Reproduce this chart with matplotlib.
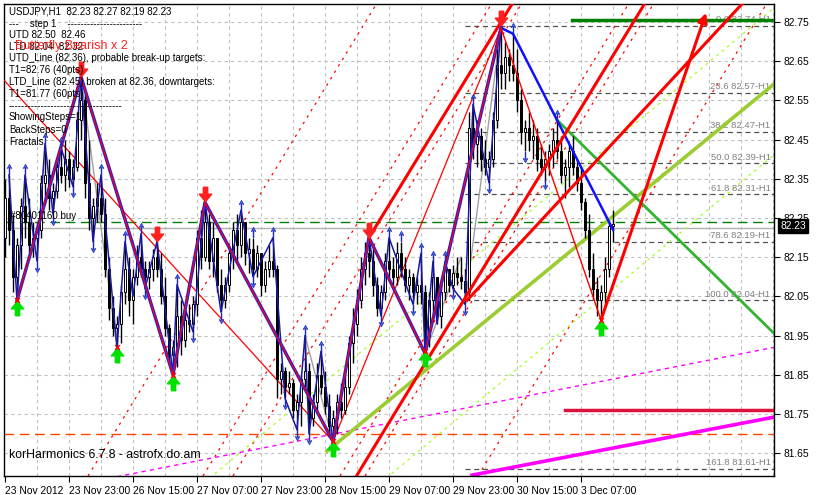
import matplotlib
matplotlib.use("Agg")
import matplotlib.pyplot as plt
import numpy as np

plt.rcParams['font.family'] = ['Liberation Sans', 'DejaVu Sans']

###################### Data ###################################################
# hourly bars, bar index = position on the time axis, open = previous close
high = [82.35, 82.36, 82.26, 82.20, 82.30, 82.36, 82.30, 82.24, 82.24, 82.36,
        82.44, 82.40, 82.34, 82.40, 82.43, 82.45, 82.42, 82.40, 82.52, 82.61,
        82.58, 82.45, 82.30, 82.34, 82.36, 82.30, 82.15, 82.05, 82.00, 82.08,
        82.19, 82.15, 82.12, 82.18, 82.21, 82.14, 82.14, 82.17, 82.19, 82.16,
        82.10, 81.98, 81.94, 82.08, 82.04, 82.01, 82.03, 82.05, 82.22, 82.27,
        82.29, 82.26, 82.24, 82.20, 82.12, 82.10, 82.18, 82.24, 82.26, 82.27,
        82.24, 82.20, 82.20, 82.18, 82.16, 82.14, 82.18, 82.20, 82.13, 81.88,
        81.87, 81.86, 81.84, 81.80, 81.85, 81.95, 81.88, 81.80, 81.88, 81.91,
        81.86, 81.80, 81.76, 81.80, 81.83, 81.85, 81.95, 82.02, 82.07, 82.15,
        82.19, 82.20, 82.17, 82.10, 82.08, 82.16, 82.20, 82.15, 82.19, 82.19,
        82.15, 82.12, 82.11, 82.10, 82.16, 82.08, 82.06, 82.14, 82.10, 82.08,
        82.14, 82.12, 82.13, 82.15, 82.15, 82.12, 82.52, 82.54, 82.50, 82.48,
        82.45, 82.42, 82.52, 82.68, 82.74, 82.70, 82.68, 82.72, 82.68, 82.58,
        82.50, 82.52, 82.50, 82.48, 82.44, 82.42, 82.44, 82.48, 82.50, 82.46,
        82.40, 82.44, 82.46, 82.40, 82.38, 82.30, 82.26, 82.16, 82.10, 82.08,
        82.15, 82.24, 82.27]
low = [82.15, 82.18, 82.06, 82.04, 82.12, 82.20, 82.16, 82.15, 82.14, 82.20,
       82.30, 82.27, 82.26, 82.30, 82.34, 82.32, 82.33, 82.33, 82.37, 82.45,
       82.30, 82.22, 82.19, 82.24, 82.24, 82.10, 81.99, 81.95, 81.92, 81.93,
       82.03, 82.00, 81.98, 82.08, 82.10, 82.07, 82.07, 82.09, 82.10, 82.03,
       81.95, 81.88, 81.85, 81.87, 81.90, 81.92, 81.96, 81.96, 82.00, 82.12,
       82.14, 82.12, 82.10, 82.06, 82.01, 82.02, 82.06, 82.12, 82.14, 82.15,
       82.13, 82.11, 82.10, 82.10, 82.05, 82.06, 82.10, 82.10, 81.79, 81.80,
       81.79, 81.80, 81.74, 81.71, 81.72, 81.82, 81.70, 81.72, 81.76, 81.80,
       81.75, 81.70, 81.68, 81.70, 81.74, 81.75, 81.80, 81.88, 81.95, 82.02,
       82.08, 82.10, 82.05, 82.00, 82.00, 82.04, 82.10, 82.07, 82.08, 82.10,
       82.06, 82.04, 82.03, 82.03, 82.03, 81.91, 81.92, 82.00, 81.98, 81.97,
       82.04, 82.06, 82.07, 82.08, 82.07, 82.03, 82.04, 82.40, 82.38, 82.37,
       82.36, 82.34, 82.38, 82.48, 82.58, 82.58, 82.60, 82.60, 82.52, 82.44,
       82.42, 82.42, 82.40, 82.37, 82.36, 82.35, 82.36, 82.38, 82.40, 82.34,
       82.30, 82.33, 82.36, 82.32, 82.27, 82.20, 82.10, 82.04, 82.00, 81.99,
       82.02, 82.10, 82.19]
close = [82.30, 82.22, 82.10, 82.18, 82.28, 82.24, 82.18, 82.20, 82.22, 82.34,
         82.36, 82.30, 82.32, 82.38, 82.36, 82.40, 82.35, 82.38, 82.50, 82.55,
         82.34, 82.25, 82.28, 82.30, 82.26, 82.12, 82.02, 81.97, 81.98, 82.06,
         82.12, 82.04, 82.10, 82.15, 82.12, 82.10, 82.12, 82.15, 82.12, 82.05,
         81.97, 81.90, 81.92, 82.00, 81.94, 81.99, 81.98, 82.03, 82.20, 82.15,
         82.24, 82.14, 82.20, 82.08, 82.04, 82.08, 82.16, 82.22, 82.18, 82.24,
         82.16, 82.17, 82.12, 82.16, 82.08, 82.12, 82.14, 82.12, 81.84, 81.86,
         81.82, 81.83, 81.76, 81.78, 81.84, 81.86, 81.74, 81.78, 81.85, 81.82,
         81.77, 81.72, 81.74, 81.78, 81.76, 81.82, 81.93, 81.98, 82.04, 82.12,
         82.16, 82.14, 82.08, 82.02, 82.06, 82.14, 82.12, 82.10, 82.16, 82.12,
         82.08, 82.10, 82.06, 82.08, 82.06, 81.95, 82.04, 82.10, 82.00, 82.06,
         82.12, 82.08, 82.11, 82.10, 82.09, 82.06, 82.48, 82.44, 82.46, 82.40,
         82.38, 82.40, 82.50, 82.64, 82.62, 82.66, 82.64, 82.62, 82.55, 82.47,
         82.48, 82.45, 82.46, 82.40, 82.38, 82.40, 82.42, 82.45, 82.42, 82.36,
         82.38, 82.42, 82.38, 82.34, 82.29, 82.22, 82.12, 82.07, 82.04, 82.06,
         82.12, 82.23, 82.23]
first_open = 82.20

tick_labels = ["23 Nov 2012", "23 Nov 23:00", "26 Nov 15:00", "27 Nov 07:00",
               "27 Nov 23:00", "28 Nov 15:00", "29 Nov 07:00", "29 Nov 23:00",
               "30 Nov 15:00", "3 Dec 07:00"]
price_ticks = [81.65, 81.75, 81.85, 81.95, 82.05, 82.15, 82.25, 82.35, 82.45,
               82.55, 82.65, 82.75]

# main zigzag (bar, price)
zz_bars = [3, 19, 42, 50, 82, 91, 105, 124]
zz_price = [82.04, 82.61, 81.85, 82.29, 81.68, 82.20, 81.905, 82.735]
last_leg = [(124, 82.735), (149, 81.99)]

# fractal zigzag
fz_bars = [1, 3, 5, 8, 10, 12, 14, 17, 19, 22, 24, 28, 30, 32, 34, 35, 38, 42,
           43, 47, 50, 54, 59, 62, 67, 70, 73, 75, 76, 79, 82, 91, 94, 96, 102,
           104, 105, 107, 108, 110, 112, 115, 117, 121, 124]
fz_price = [82.36, 82.04, 82.36, 82.14, 82.44, 82.26, 82.43, 82.33, 82.61, 82.19,
            82.36, 81.92, 82.19, 82.05, 82.21, 82.07, 82.19, 81.85, 82.08, 81.96,
            82.29, 82.01, 82.27, 82.10, 82.20, 81.79, 81.71, 81.95, 81.70, 81.91,
            81.68, 82.20, 82.00, 82.20, 82.03, 82.16, 81.905, 82.14, 81.98, 82.14,
            82.07, 82.03, 82.54, 82.34, 82.735]

frac_up = [1, 5, 10, 14, 24, 30, 34, 43, 59, 62, 67, 75, 79, 96, 99, 104, 107,
           110, 117, 127, 138]
frac_dn = [8, 12, 17, 22, 35, 47, 54, 62, 70, 73, 76, 94, 102, 112, 115, 121,
           130, 135]
peak_arrows = [19, 38, 50, 91, 124]
trough_arrows = [3, 28, 42, 82, 105, 149]

# fibonacci
fib_pct = ["0.0", "23.6", "38.2", "50.0", "61.8", "78.6", "100.0", "161.8"]
fib_val = [82.74, 82.57, 82.47, 82.39, 82.31, 82.19, 82.04, 81.61]

# trend lines: two anchor points (bar, price)
red_thick_a = [(104.5, 81.870), (148.75, 82.610)]
red_thick_b = [(91, 82.20), (127, 82.80)]
red_thick_c = [(115.5, 82.04), (171.25, 82.653)]
red_thick_d = [(149, 81.99), (175.5, 82.78)]
red_thin_1 = [(-1, 82.61), (82, 81.68)]
red_thin_2 = [(82, 81.68), (124, 82.735)]
lime_thick = [(80.5, 81.655), (148.75, 82.227)]
lime_dot_1 = [(96, 81.592), (148.75, 82.041)]
lime_dot_2 = [(51.8, 81.592), (148.75, 82.416)]
green_thick = [(138, 82.50), (183.75, 82.041)]
blue_thick = [(124, 82.735), (127, 82.72), (138, 82.50), (152, 82.22)]
magenta_thick = [(116.75, 81.594), (192.25, 81.742)]
magenta_dash = [(28, 81.59), (192.25, 81.92)]
red_dot_starts = [20.75, 49.5, 57, 83.75, 90, 118.25]   # bar where a dotted line leaves the bottom
red_dot_slope = 0.0167
gray_legs = [[(19, 82.61), (28, 81.92)], [(38, 82.19), (42, 81.85)],
             [(75, 81.95), (82, 81.68)], [(105, 81.905), (114, 82.15)],
             [(115, 82.03), (124, 82.735)]]

hline_bid = 82.225
hline_order = 82.24
hline_orange = 81.70
hline_crimson = (140, 81.76)
hline_green = (141.75, 82.755)

###################### Figure #################################################
fig = plt.figure(figsize=(8.16, 4.95), dpi=100)
fig.patch.set_facecolor("white")
ax = fig.add_axes([4 / 816, 19 / 495, 770 / 816, 472 / 495])
X0, X1 = -0.25, 192.25
Y0, Y1 = 81.5918, 82.7959
ax.set_xlim(X0, X1)
ax.set_ylim(Y0, Y1)

# grid
for p in price_ticks:
    ax.axhline(p, color="#c0c0c0", lw=0.8, ls=(0, (3, 3)), zorder=0)
for j in range(8, 193, 8):
    ax.axvline(j, color="#c0c0c0", lw=0.8, ls=(0, (3, 3)), zorder=0)


def seg(pts, **kw):
    xs, ys = zip(*pts)
    ax.plot(xs, ys, **kw)


def ray(pts, **kw):
    (xa, ya), (xb, yb) = pts
    s = (yb - ya) / (xb - xa)
    xe = xa + (Y1 + 0.05 - ya) / s if s > 0 else X1
    ax.plot([xa, xe], [ya, ya + s * (xe - xa)], **kw)


def full(pts, **kw):
    (xa, ya), (xb, yb) = pts
    s = (yb - ya) / (xb - xa)
    ax.plot([X0 - 50, X1 + 50], [ya + s * (X0 - 50 - xa), ya + s * (X1 + 50 - xa)], **kw)


# fibonacci levels
for pct, v in zip(fib_pct, fib_val):
    ax.plot([115, X1], [v, v], color="#505050", lw=0.9, ls=(0, (4, 3)), zorder=1)
    ax.text(191.4, v + 0.004, f"{pct} {v:.2f}-H1", ha="right", va="bottom",
            fontsize=6.8, color="#808080", zorder=2)

# horizontal lines
ax.axhline(hline_bid, color="#b0b0b0", lw=1, zorder=1)
ax.axhline(hline_order, color="#008000", lw=1, ls=(0, (7, 4)), zorder=1)
ax.axhline(hline_orange, color="#ff4500", lw=1, ls=(0, (7, 4)), zorder=1)
ax.plot([hline_crimson[0], X1], [hline_crimson[1]] * 2, color="#dc143c", lw=2.5, zorder=3)
ax.plot([hline_green[0], X1], [hline_green[1]] * 2, color="#008000", lw=2.5, zorder=3)

# dotted red channel lines
for j0 in red_dot_starts:
    ray([(j0, Y0), (j0 + 10, Y0 + 10 * red_dot_slope)], color="red", lw=0.9,
        ls=(0, (2, 4)), zorder=1)

# lime and magenta lines
ray(lime_thick, color="#9acd32", lw=2.6, zorder=2)
full(lime_dot_1, color="#adff2f", lw=1, ls=(0, (2, 3)), zorder=1)
full(lime_dot_2, color="#adff2f", lw=1, ls=(0, (2, 3)), zorder=1)
seg(magenta_thick, color="#ff00ff", lw=2.6, zorder=2)
seg(magenta_dash, color="#ff00ff", lw=1, ls=(0, (3, 3)), zorder=1)
ray(green_thick, color="#32b432", lw=2, zorder=2)

# gray legs
for leg in gray_legs:
    seg(leg, color="#a0a0a0", lw=1, zorder=2)

# candles
n = len(close)
opens = [first_open] + close[:-1]
opens[-1] = 82.23
idx = np.arange(n)
ax.vlines(idx, low, high, color="black", lw=1, zorder=4)
body = np.array(close) - np.array(opens)
cols = ["white" if b >= 0 else "black" for b in body]
ax.bar(idx, np.where(np.abs(body) < 0.004, 0.004, body), bottom=opens, width=0.6,
       color=cols, edgecolor="black", lw=0.7, zorder=5)

# zigzags
ax.plot(fz_bars, fz_price, color="#1a1aa0", lw=1.1, zorder=6)
ax.plot(zz_bars, zz_price, color="#2020e0", lw=2.4, zorder=6)
ax.plot(zz_bars, zz_price, color="red", lw=0.9, zorder=7)
seg(last_leg, color="red", lw=1, zorder=7)
seg(red_thin_1, color="red", lw=0.9, zorder=3)
seg(red_thin_2, color="red", lw=0.9, zorder=3)
seg(blue_thick, color="#1010ff", lw=1.8, zorder=6)

# thick red lines
full(red_thick_a, color="red", lw=2.2, zorder=7)
ray(red_thick_b, color="red", lw=2.2, zorder=7)
ray(red_thick_c, color="red", lw=2.2, zorder=7)
ax.annotate("", xy=red_thick_d[1], xytext=red_thick_d[0],
            arrowprops=dict(arrowstyle="-|>", color="red", lw=2.2, mutation_scale=14),
            zorder=7)

# fractal arrows (thin blue)
frac_up_m = [(-0.07, -1), (0.07, -1), (0.07, 0.35), (0.45, 0.2), (0, 1), (-0.45, 0.2),
             (-0.07, 0.35), (-0.07, -1)]
frac_dn_m = [(x, -y) for x, y in frac_up_m]
ax.scatter(frac_up, [high[j] + 0.014 for j in frac_up], marker=frac_up_m, s=55,
           color="#4a6cff", edgecolor="#1a2ab0", lw=0.5, zorder=8)
ax.scatter(frac_dn, [low[j] - 0.014 for j in frac_dn], marker=frac_dn_m, s=55,
           color="#4a6cff", edgecolor="#1a2ab0", lw=0.5, zorder=8)

dn_arrow = [(-0.3, 1), (0.3, 1), (0.3, 0.05), (0.85, 0.05), (0, -1), (-0.85, 0.05),
            (-0.3, 0.05), (-0.3, 1)]
up_arrow = [(x, -y) for x, y in dn_arrow]
ax.scatter(peak_arrows, [high[j] + 0.02 for j in peak_arrows], marker=dn_arrow,
           s=110, color="#ff2020", zorder=9)
ax.scatter(trough_arrows, [low[j] - 0.02 for j in trough_arrows], marker=up_arrow,
           s=110, color="#00e000", zorder=9)
ax.scatter(trough_arrows, [low[j] for j in trough_arrows], marker="x", s=12,
           color="red", lw=1, zorder=10)

# axes cosmetics
for sp in ax.spines.values():
    sp.set_color("black")
    sp.set_linewidth(1)
ax.yaxis.tick_right()
ax.set_yticks(price_ticks)
ax.set_yticklabels([f"{p:.2f}" for p in price_ticks])
ax.set_xticks(range(0, 145, 16))
ax.set_xticklabels(tick_labels, ha="left")
ax.tick_params(axis="both", direction="out", length=4, labelsize=7.4, colors="black",
               pad=3)
ax.tick_params(axis="x", pad=3)

ax.text(1.008, hline_bid + 0.004, "82.23", transform=ax.get_yaxis_transform(),
        ha="left", va="center", fontsize=7.4, color="white",
        bbox=dict(boxstyle="square,pad=0.2", fc="black", ec="black"), clip_on=False)

# text block
info = ["USDJPY,H1  82.23 82.27 82.19 82.23",
        "---    step 1    -----------------------",
        "UTD 82.50  82.46",
        "LTD 82.04  82.32",
        "UTD_Line (82.36), probable break-up targets:",
        "T1=82.76 (40pts)",
        "LTD_Line (82.45) broken at 82.36, downtargets:",
        "T1=81.77 (60pts)",
        "-----------------------------------",
        "ShowingSteps=1",
        "BackSteps=0",
        "Fractals"]
ys = [12, 24, 35, 47, 58, 70, 82, 94, 106, 117, 130, 142]
for t, y in zip(info, ys):
    fig.text(9 / 816, 1 - y / 495, t, fontsize=7, va="center", ha="left", color="black")
fig.text(15 / 816, 1 - 46 / 495, "Butterfly Bearish x 2", fontsize=9, va="center",
         color="#ff2020")
fig.text(10 / 816, 1 - 216 / 495, "#80401160 buy", fontsize=7, va="center")
fig.text(9 / 816, 1 - 455 / 495, "korHarmonics 6.7.8 - astrofx.do.am", fontsize=8.8,
         va="center")

fig.savefig("out.png", dpi=100)
